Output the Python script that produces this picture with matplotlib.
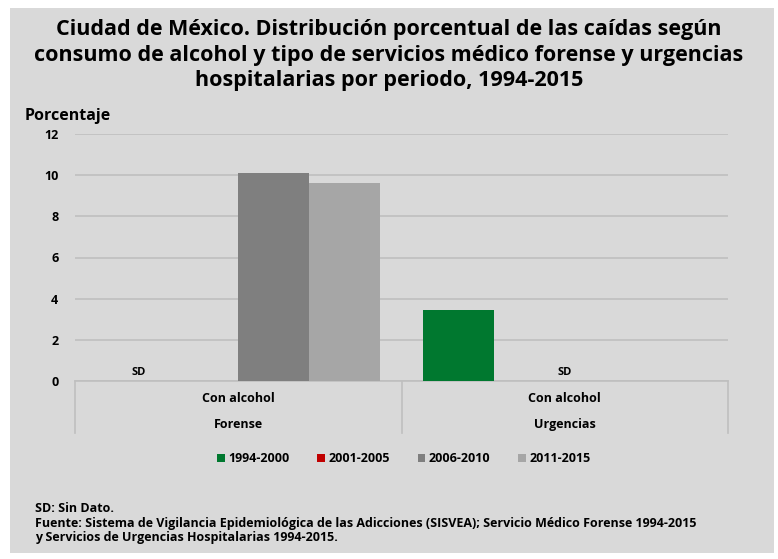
import matplotlib
matplotlib.use("Agg")
import matplotlib.pyplot as plt
from matplotlib.patches import Rectangle, Patch
from matplotlib.transforms import blended_transform_factory
import numpy as np

plt.rcParams['font.family'] = ['Open Sans', 'DejaVu Sans']
plt.rcParams['font.weight'] = 'bold'

title = ("Ciudad de México. Distribución porcentual de las caídas según\n"
         "consumo de alcohol y tipo de servicios médico forense y urgencias\n"
         "hospitalarias por periodo, 1994-2015")
categories = ["Forense", "Urgencias"]
sub_label = "Con alcohol"
periods = ["1994-2000", "2001-2005", "2006-2010", "2011-2015"]
values = {
    "1994-2000": [None, 3.46],
    "2001-2005": [None, None],
    "2006-2010": [10.1, None],
    "2011-2015": [9.63, None],
}
colors = ["#00782f", "#c00000", "#7f7f7f", "#a6a6a6"]
yticks = [0, 2, 4, 6, 8, 10, 12]
footnotes = ["SD: Sin Dato.",
             "Fuente: Sistema de Vigilancia Epidemiológica de las Adicciones (SISVEA); Servicio Médico Forense 1994-2015",
             "y Servicios de Urgencias Hospitalarias 1994-2015."]

W, H = 778, 559
fig = plt.figure(figsize=(W/100, H/100), dpi=100, facecolor="white")
fig.patches.append(Rectangle((10/W, 1-553/H), (774-10)/W, (553-8)/H,
                             transform=fig.transFigure, facecolor="#d9d9d9",
                             edgecolor="none", zorder=-5))

ax = fig.add_axes([75/W, 1-381/H, (728-75)/W, (381-134)/H])
ax.patch.set_visible(False)

x = np.arange(len(categories))
w = 0.217
for i, p in enumerate(periods):
    vals = values[p]
    xs = [x[j] + (i-1.5)*w for j in range(len(categories)) if vals[j] is not None]
    hs = [v for v in vals if v is not None]
    if xs:
        ax.bar(xs, hs, width=w, color=colors[i], zorder=3, align='center')

# SD labels
sd_pos = [x[0] - 1.4*w, x[1]]
for xp in sd_pos:
    ax.text(xp, 0.15, "SD", ha='center', va='bottom', fontsize=8, fontweight='bold')

ax.set_xlim(-0.5, 1.5)
ax.set_ylim(0, 12)
ax.set_yticks(yticks)
ax.set_yticklabels([str(t) for t in yticks], fontsize=9, fontweight='bold')
ax.yaxis.grid(True, color="#bfbfbf", linewidth=1.2, zorder=0)
ax.set_axisbelow(True)
ax.tick_params(axis='y', length=0, pad=12)
ax.tick_params(axis='x', length=0)
ax.set_xticks([])
for s in ['left', 'right', 'top']:
    ax.spines[s].set_visible(False)
ax.spines['bottom'].set_color("#bfbfbf")
ax.spines['bottom'].set_linewidth(1.2)

trans = blended_transform_factory(ax.transData, ax.transAxes)
for xb in [-0.5, 0.5, 1.5]:
    ax.plot([xb, xb], [0, -0.21], transform=trans, color="#bfbfbf",
            linewidth=1.2, clip_on=False)
for j, c in enumerate(categories):
    ax.text(x[j], -0.07, sub_label, transform=trans, ha='center', va='center',
            fontsize=9, fontweight='bold')
    ax.text(x[j], -0.175, c, transform=trans, ha='center', va='center',
            fontsize=9, fontweight='bold')

fig.text(389/W, 1-55/H, title, ha='center', va='center', fontsize=15.5,
         fontweight='bold', linespacing=1.3)
fig.text(25/W, 1-116/H, "Porcentaje", ha='left', va='center', fontsize=11.5,
         fontweight='bold')

handles = [Patch(facecolor=c, edgecolor='none') for c in colors]
leg = fig.legend(handles, periods, loc='center', bbox_to_anchor=(404/W, 1-459/H), ncol=4,
                 frameon=False, fontsize=9, handlelength=0.6, handleheight=0.6,
                 columnspacing=2.2, handletextpad=0.3)
for t in leg.get_texts():
    t.set_fontweight('bold')

for k, line in enumerate(footnotes):
    fig.text(35/W, 1-(508+15*k)/H, line, ha='left', va='center', fontsize=9,
             fontweight='bold')

fig.savefig("out.png", dpi=100, facecolor="white")
